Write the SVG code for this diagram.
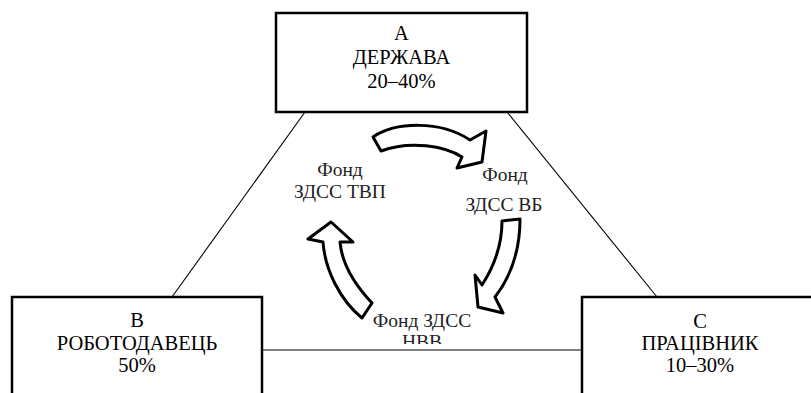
<svg xmlns="http://www.w3.org/2000/svg" width="811" height="393" viewBox="0 0 811 393">
<style>
.box{fill:#fff;stroke:#000;stroke-width:2.5}
.ln{stroke:#000;stroke-width:1.1;fill:none}
.arr{fill:#fff;stroke:#000;stroke-width:3;stroke-linejoin:round}
.t{font-family:"Liberation Serif","Times New Roman",serif;font-size:20.5px;fill:#000;text-anchor:middle}
.f{font-family:"Liberation Serif","Times New Roman",serif;font-size:19.5px;fill:#222;text-anchor:middle}
</style>
<defs>
<clipPath id="clipNVV"><rect x="360" y="300" width="130" height="44"/></clipPath>
</defs>
<rect width="811" height="393" fill="#fff"/>
<g id="connectors">
<line class="ln" x1="305" y1="112" x2="172" y2="297"/>
<line class="ln" x1="507" y1="112" x2="657" y2="297"/>
<line class="ln" x1="262" y1="350" x2="582" y2="350"/>
</g>
<g id="nodeA">
<rect class="box" x="276" y="13" width="251" height="99"/>
<text class="t" x="401.5" y="40">А</text>
<text class="t" x="401.5" y="64">ДЕРЖАВА</text>
<text class="t" x="401.5" y="88">20–40%</text>
</g>
<g id="nodeB">
<rect class="box" x="12" y="297" width="250" height="110"/>
<text class="t" x="137" y="327">В</text>
<text class="t" x="137" y="350">РОБОТОДАВЕЦЬ</text>
<text class="t" x="137" y="372">50%</text>
</g>
<g id="nodeC">
<rect class="box" x="582" y="297" width="236" height="110"/>
<text class="t" x="700" y="328">С</text>
<text class="t" x="700" y="350">ПРАЦІВНИК</text>
<text class="t" x="700" y="372">10–30%</text>
</g>
<g id="arrows">
<path class="arr" d="M381,151 L373,137 C395,122 440,120 470,140 L486,131 L482,162 L457,168 L462,157 C445,146 410,140 381,151 Z"/>
<path class="arr" d="M502,221 L520,219 C520,250 512,275 495,297 L503,313 L478,307 L475,275 L482,285 C495,265 502,245 502,221 Z"/>
<path class="arr" d="M372,303 C355,285 342,265 340,242 L353,242 L331,222 L308,239 L323,242 C325,270 340,300 362,318 Z"/>
</g>
<g id="fundTVP">
<text class="f" x="340" y="176">Фонд</text>
<text class="f" x="340" y="198">ЗДСС ТВП</text>
</g>
<g id="fundVB">
<text class="f" x="505" y="181">Фонд</text>
<text class="f" x="504" y="211">ЗДСС ВБ</text>
</g>
<g id="fundNVV">
<text class="f" x="422" y="327">Фонд ЗДСС</text>
<text class="f" x="422" y="348" clip-path="url(#clipNVV)">НВВ</text>
</g>
</svg>
